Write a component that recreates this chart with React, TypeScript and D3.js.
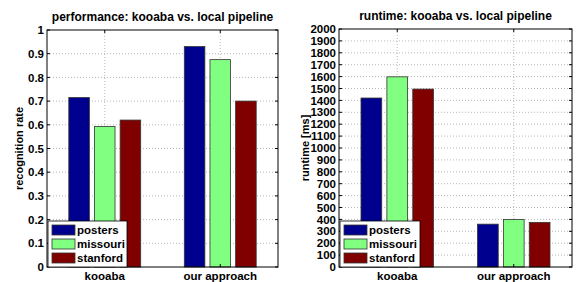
import * as d3 from 'd3';

const categories = ['kooaba', 'our approach'];
const seriesNames = ['posters', 'missouri', 'stanford'];
const seriesColors = ['#00008f', '#80ff80', '#800000'];

// recognition rate per series, [kooaba, our approach]
const perfValues = [
  [0.715, 0.93],
  [0.593, 0.875],
  [0.62, 0.7],
];
const perfTicks = [0, 0.1, 0.2, 0.3, 0.4, 0.5, 0.6, 0.7, 0.8, 0.9, 1];

// runtime in ms per series
const runValues = [
  [1420, 360],
  [1598, 400],
  [1495, 375],
];
const runTicks = d3.range(0, 2001, 100);

const FONT = '"Liberation Sans", Arial, sans-serif';

interface PanelProps {
  left: number;
  right: number;
  top: number;
  bottom: number;
  title: string;
  yLabel: string;
  yLabelX: number;
  values: number[][];
  ticks: number[];
  yMax: number;
  fmt: (v: number) => string;
  legendWidth: number;
}

function Panel(p: PanelProps) {
  const x = d3.scaleLinear().domain([0.5, 2.5]).range([p.left, p.right]);
  const y = d3.scaleLinear().domain([0, p.yMax]).range([p.bottom, p.top]);
  const offsets = [-0.2222, 0, 0.2222];
  const bw = 0.178;
  const tl = 3;
  const legTop = p.bottom - 46;

  return (
    <g fontFamily={FONT} fontWeight="bold">
      <rect x={p.left} y={p.top} width={p.right - p.left} height={p.bottom - p.top} fill="#fff" />
      {/* grid */}
      {p.ticks.slice(1, -1).map((t) => (
        <line key={'h' + t} x1={p.left} x2={p.right} y1={y(t)} y2={y(t)} stroke="#9a9a9a" strokeWidth={0.7} strokeDasharray="1 2" />
      ))}
      {[1, 2].map((c) => (
        <line key={'v' + c} x1={x(c)} x2={x(c)} y1={p.top} y2={p.bottom} stroke="#9a9a9a" strokeWidth={0.7} strokeDasharray="1 2" />
      ))}
      {/* bars */}
      {p.values.map((vals, s) =>
        vals.map((v, c) => (
          <rect
            key={s + '-' + c}
            x={x(c + 1 + offsets[s] - bw / 2)}
            y={y(v)}
            width={x(bw) - x(0)}
            height={y(0) - y(v)}
            fill={seriesColors[s]}
            stroke="#333"
            strokeWidth={0.8}
          />
        )),
      )}
      {/* ticks */}
      {p.ticks.map((t) => (
        <g key={'t' + t}>
          <line x1={p.left} x2={p.left + tl} y1={y(t)} y2={y(t)} stroke="#000" />
          <line x1={p.right} x2={p.right - tl} y1={y(t)} y2={y(t)} stroke="#000" />
          <text x={p.left - 3} y={y(t)} dy="0.36em" textAnchor="end" fontSize={11.5}>
            {p.fmt(t)}
          </text>
        </g>
      ))}
      {[1, 2].map((c) => (
        <g key={'x' + c}>
          <line x1={x(c)} x2={x(c)} y1={p.bottom} y2={p.bottom - tl} stroke="#000" />
          <line x1={x(c)} x2={x(c)} y1={p.top} y2={p.top + tl} stroke="#000" />
          <text x={x(c)} y={p.bottom + 12.5} textAnchor="middle" fontSize={11.5}>
            {categories[c - 1]}
          </text>
        </g>
      ))}
      <rect x={p.left} y={p.top} width={p.right - p.left} height={p.bottom - p.top} fill="none" stroke="#000" strokeWidth={1} />
      {/* legend */}
      <rect x={p.left + 1} y={legTop} width={p.legendWidth} height={p.bottom - legTop} fill="#fff" stroke="#000" strokeWidth={0.8} />
      {seriesNames.map((n, i) => (
        <g key={n}>
          <rect x={p.left + 5} y={legTop + 4 + i * 14} width={23} height={10} fill={seriesColors[i]} stroke="#333" strokeWidth={0.8} />
          <text x={p.left + 30} y={legTop + 9 + i * 14} dy="0.36em" fontSize={11.5}>
            {n}
          </text>
        </g>
      ))}
      <text x={(p.left + p.right) / 2} y={p.top - 9} textAnchor="middle" fontSize={12}>
        {p.title}
      </text>
      <text transform={`translate(${p.yLabelX},${(p.top + p.bottom) / 2}) rotate(-90)`} textAnchor="middle" fontSize={11}>
        {p.yLabel}
      </text>
    </g>
  );
}

export default function App() {
  return (
    <div style={{ position: 'absolute', left: 0, top: 0 }}>
      <svg width={576} height={282} style={{ display: 'block', background: '#fff' }}>
        <Panel
          left={47}
          right={278}
          top={30}
          bottom={267}
          title="performance: kooaba vs. local pipeline"
          yLabel="recognition rate"
          yLabelX={23}
          values={perfValues}
          ticks={perfTicks}
          yMax={1}
          fmt={(v) => (v === 0 ? '0' : v === 1 ? '1' : d3.format('.1f')(v))}
          legendWidth={79}
        />
        <Panel
          left={339}
          right={572}
          top={29}
          bottom={267}
          title="runtime: kooaba vs. local pipeline"
          yLabel="runtime [ms]"
          yLabelX={309}
          values={runValues}
          ticks={runTicks}
          yMax={2000}
          fmt={(v) => String(v)}
          legendWidth={80}
        />
      </svg>
    </div>
  );
}
